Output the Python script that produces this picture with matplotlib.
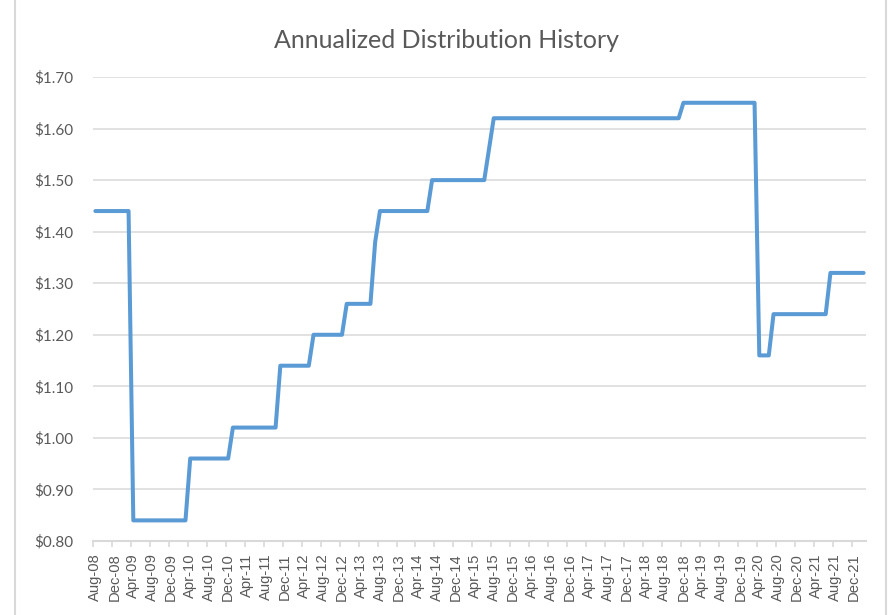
import matplotlib
matplotlib.use('Agg')
import matplotlib.pyplot as plt
from matplotlib.lines import Line2D
from matplotlib.ticker import FixedLocator
import pandas as pd

# Categories: monthly, Aug-08 .. Feb-22
months = pd.date_range('2008-08-01', periods=163, freq='MS').strftime('%b-%y').tolist()

values = ([1.44] * 8 + [0.84] * 12 + [0.96] * 9 + [1.02] * 10 + [1.14] * 7 +
          [1.20] * 7 + [1.26] * 6 + [1.38] * 1 + [1.44] * 11 + [1.50] * 12 +
          [1.56] * 1 + [1.62] * 40 + [1.65] * 16 + [1.16] * 3 + [1.24] * 12 +
          [1.32] * 8)

yticks = [0.80, 0.90, 1.00, 1.10, 1.20, 1.30, 1.40, 1.50, 1.60, 1.70]
ytick_labels = [r'\$%.2f' % v for v in yticks]
title = 'Annualized Distribution History'

W, H = 892, 615
fig = plt.figure(figsize=(W / 100, H / 100), dpi=100)
fig.patch.set_facecolor('white')
ax = fig.add_axes([93 / W, 1 - 541 / H, (866 - 93) / W, (541 - 77) / H])

n = len(values)
ax.plot(range(n), values, color='#5B9BD5', lw=2.9,
        solid_joinstyle='round', solid_capstyle='round', zorder=3)

ax.set_xlim(-0.5, n - 0.5)
ax.set_ylim(0.8, 1.7)

ax.set_yticks(yticks)
ax.set_yticklabels(ytick_labels, fontsize=11, color='#595959', family='Lato')
ax.tick_params(axis='y', length=0, pad=14)
ax.yaxis.grid(True, color='#d9d9d9', lw=1.1)
ax.set_axisbelow(True)

major = list(range(0, n, 4))
ax.set_xticks(major)
ax.set_xticklabels([months[i] for i in major], rotation=90, fontsize=10.6,
                   color='#595959', family='Liberation Sans')
ax.xaxis.set_minor_locator(FixedLocator([i - 0.5 for i in range(0, n + 1, 4)]))
ax.tick_params(axis='x', which='major', length=0, pad=9)
ax.tick_params(axis='x', which='minor', length=4, width=1.2, color='#d9d9d9')

for s in ['top', 'right', 'left']:
    ax.spines[s].set_visible(False)
ax.spines['bottom'].set_color('#d9d9d9')
ax.spines['bottom'].set_linewidth(1.5)

fig.text(447 / W, 1 - 41 / H, title, ha='center', va='center',
         fontsize=18, color='#595959', family='Lato')

fig.add_artist(Line2D([15 / W, 15 / W], [0, 1], transform=fig.transFigure,
                      color='#d9d9d9', lw=1.5))
fig.add_artist(Line2D([886 / W, 886 / W], [0, 1], transform=fig.transFigure,
                      color='#d9d9d9', lw=1.5))

fig.savefig('out.png', dpi=100, facecolor='white')
